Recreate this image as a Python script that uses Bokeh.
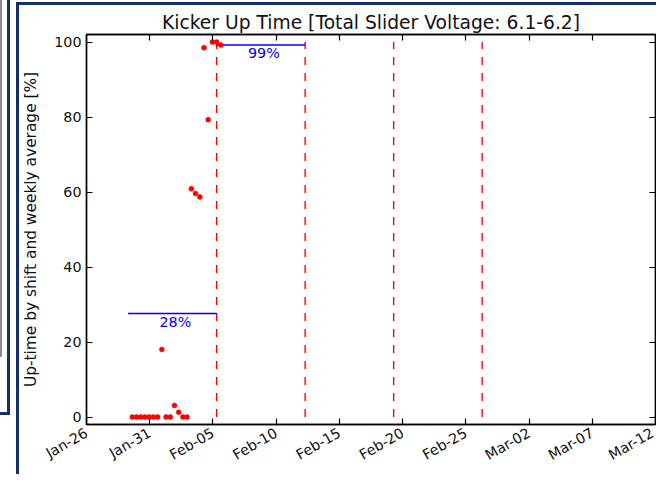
import math
import pandas as pd
from bokeh.plotting import figure
from bokeh.models import (Range1d, FixedTicker, DatetimeTickFormatter, DatetimeAxis,
                          LinearAxis, ColumnDataSource)
from bokeh.core.properties import value
from bokeh.embed import file_html
from bokeh.resources import INLINE

# ---- data ----
shift_times = ["2013-01-29 15:00", "2013-01-29 23:00", "2013-01-30 07:00", "2013-01-30 15:00",
               "2013-01-30 23:00", "2013-01-31 07:00", "2013-01-31 15:00", "2013-01-31 23:00",
               "2013-02-01 07:00", "2013-02-01 15:00", "2013-02-01 23:00", "2013-02-02 07:00",
               "2013-02-02 15:00", "2013-02-02 23:00", "2013-02-03 07:00", "2013-02-03 15:00",
               "2013-02-03 23:00", "2013-02-04 07:00", "2013-02-04 15:00", "2013-02-04 23:00",
               "2013-02-05 07:00", "2013-02-05 15:00"]
uptime_pct = [0, 0, 0, 0, 0, 0, 0, 18.0,
              0, 0, 3.1, 1.3, 0, 0, 60.9, 59.6,
              58.7, 98.5, 79.3, 100, 100, 99.2]

week_start = ["2013-01-29 07:00", "2013-02-05 07:00"]
week_end = ["2013-02-05 07:00", "2013-02-12 07:00"]
week_avg = [27.6, 99.2]
week_label = ["28%", "99%"]

week_boundaries = ["2013-02-05 07:00", "2013-02-12 07:00", "2013-02-19 07:00", "2013-02-26 07:00"]

tick_dates = ["2013-01-26", "2013-01-31", "2013-02-05", "2013-02-10", "2013-02-15",
              "2013-02-20", "2013-02-25", "2013-03-02", "2013-03-07", "2013-03-12"]
y_ticks = [0, 20, 40, 60, 80, 100]

title_text = "Kicker Up Time [Total Slider Voltage: 6.1-6.2]"
y_label = "Up-time by shift and weekly average [%]"

# ---- build ----
def ms(vals):
    return [pd.Timestamp(v).value / 1e6 for v in vals]

tick_ms = ms(tick_dates)
FONT = "DejaVu Sans"
TXT = "#111111"
NAVY = "#142d6b"

p = figure(width=656, height=474, output_backend="svg", toolbar_location=None,
           x_axis_type="datetime",
           x_range=Range1d(tick_ms[0], tick_ms[-1]), y_range=Range1d(-2, 102),
           min_border_left=86, min_border_right=1, min_border_top=34, min_border_bottom=50,
           title=title_text)
p.title.text_font = FONT
p.title.text_font_size = "18.7px"
p.title.text_font_style = "normal"
p.title.align = "center"
p.title.text_color = TXT
p.title.standoff = 4
p.xgrid.grid_line_color = None
p.ygrid.grid_line_color = None
p.outline_line_color = "black"
p.outline_line_width = 1.4
p.background_fill_color = "white"
p.border_fill_color = None

# page decoration behind the (transparent) border area: navy frame and side panel edges
g = lambda c: f"linear-gradient({c},{c})"
p.styles = {
    "background": ", ".join([
        f"{g(NAVY)} 16px 2px / 700px 3px no-repeat",
        f"{g(NAVY)} 16px 2px / 3px 500px no-repeat",
        f"{g(NAVY)} 7px 0px / 3px 415px no-repeat",
        f"{g(NAVY)} 0px 412px / 10px 3px no-repeat",
        f"{g('#8c8c8c')} 0px 0px / 2px 357px no-repeat",
        "white",
    ])
}

fmt = DatetimeTickFormatter(days="%b-%d", months="%b-%d", hours="%b-%d", years="%b-%d")

def style_axis(ax):
    ax.major_tick_in = 6
    ax.major_tick_out = 0
    ax.minor_tick_line_color = None
    ax.major_tick_line_color = "black"
    ax.major_tick_line_width = 1.2
    ax.axis_line_color = "black"
    ax.axis_line_width = 1.4
    ax.major_label_text_font = FONT
    ax.major_label_text_font_size = "14.3px"
    ax.major_label_text_color = TXT

xa = p.xaxis[0]
xa.ticker = FixedTicker(ticks=tick_ms)
xa.formatter = fmt
xa.major_label_orientation = math.pi / 6
xa.major_label_standoff = 7
style_axis(xa)

ya = p.yaxis[0]
ya.ticker = FixedTicker(ticks=y_ticks)
style_axis(ya)
ya.axis_label = y_label
ya.axis_label_text_font = FONT
ya.axis_label_text_font_size = "15.4px"
ya.axis_label_text_font_style = "normal"
ya.axis_label_text_color = TXT
ya.axis_label_standoff = 11

top_ax = DatetimeAxis(ticker=FixedTicker(ticks=tick_ms), formatter=fmt)
style_axis(top_ax)
top_ax.major_label_text_font_size = "0px"
top_ax.major_label_text_color = None
top_ax.major_label_standoff = 0
p.add_layout(top_ax, "above")

right_ax = LinearAxis(ticker=FixedTicker(ticks=y_ticks))
style_axis(right_ax)
right_ax.major_label_text_font_size = "0px"
right_ax.major_label_text_color = None
right_ax.major_label_standoff = 0
p.add_layout(right_ax, "right")

# weekly boundaries
bsrc = ColumnDataSource(dict(x=ms(week_boundaries), y0=[0] * len(week_boundaries),
                             y1=[100] * len(week_boundaries)))
p.segment(x0="x", y0="y0", x1="x", y1="y1", source=bsrc, line_color="red",
          line_width=1.4, line_dash="8 8")

# weekly averages
ws = ms(week_start)
we = ms(week_end)
wsrc = ColumnDataSource(dict(x0=ws, x1=we, y=week_avg, xm=[(a + b) / 2 for a, b in zip(ws, we)],
                             label=week_label))
p.segment(x0="x0", y0="y", x1="x1", y1="y", source=wsrc, line_color="blue", line_width=1.4)
p.text(x="xm", y="y", text="label", source=wsrc, text_color="blue",
       text_font=value(FONT), text_font_size="14.3px", text_align="center",
       text_baseline="top", x_offset=3, y_offset=0)

# shift points
ssrc = ColumnDataSource(dict(x=ms(shift_times), y=uptime_pct))
p.scatter(x="x", y="y", source=ssrc, size=5, fill_color="red", line_color="red",
          line_width=0.5)

open("out.html", "w").write(file_html(p, INLINE))
